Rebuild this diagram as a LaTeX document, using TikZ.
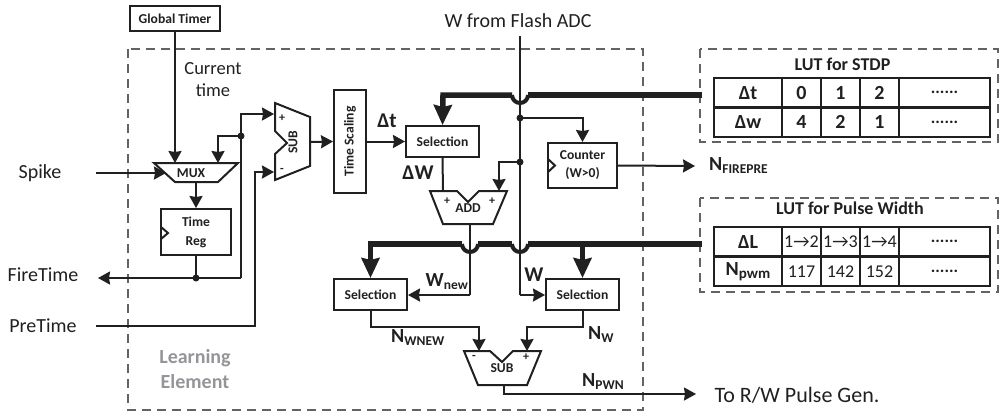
\documentclass[tikz,border=0pt]{standalone}
\usepackage{fontspec}
\setmainfont{Carlito}
\usetikzlibrary{arrows.meta}
\definecolor{boxline}{HTML}{202020}
\definecolor{dashline}{HTML}{636363}
\definecolor{titlegray}{HTML}{939598}
\newcommand{\sizebig}{\fontsize{20}{24}\selectfont}
\newcommand{\sizebox}{\fontsize{13.6}{17}\selectfont}
\newcommand{\sizesmall}{\fontsize{12}{14}\selectfont}
\newcommand{\lab}[2]{{\bfseries\fontsize{20}{24}\selectfont #1\raisebox{-3pt}{\fontsize{13.5}{18}\selectfont #2}}}
\tikzset{
    wire/.style={line width=2pt,draw=boxline},
    wirearrow/.style={wire,-{Stealth[length=12pt,width=13pt,inset=1pt]}},
    bus/.style={line width=5.5pt,draw=boxline},
    busarrow/.style={bus,-{Stealth[length=20pt,width=18pt,inset=2pt]}},
    bump/.style={line width=4pt,draw=boxline},
    block/.style={draw=boxline,line width=2pt,inner sep=0pt,align=center,font=\sizebox\bfseries,text=boxline},
    outline/.style={draw=boxline,line width=2pt,line join=miter},
    region/.style={draw=dashline,line width=1.8pt,dash pattern=on 9pt off 6pt},
    junction/.style={circle,fill=boxline,inner sep=0pt,minimum size=7pt},
    plain/.style={inner sep=0pt,align=center,text=boxline,font=\sizebig},
    tag/.style={inner sep=0pt,text=boxline},
    cell/.style={draw=boxline,line width=2.2pt,inner sep=0pt,minimum height=29.5pt,text=boxline,font=\fontsize{20}{24}\selectfont\bfseries},
    thincell/.style={cell,font=\fontsize{18}{22}\selectfont},
    dotcell/.style={cell,minimum width=91pt,font=\fontsize{17}{20}\selectfont\bfseries}
}
\begin{document}
\begin{tikzpicture}[x=1pt,y=-1pt]
    \useasboundingbox (0,0) rectangle (1000,413);
    % dashed frames
    \draw [region] (128,49) rectangle (643,410);
    \draw [region] (700,49) rectangle (998,142);
    \draw [region] (700,198) rectangle (998,292);
    % plain blocks
    \node [block,minimum width=90pt,minimum height=25pt] (timer) at (175,18.5) {Global Timer};
    \node [block,minimum width=70pt,minimum height=46pt] (reg) at (196,232) {Time\\[2pt]Reg};
    \node [block,minimum width=32pt,minimum height=103pt] (scale) at (350,141.5) {\rotatebox{90}{Time Scaling}};
    \node [block,minimum width=73pt,minimum height=31pt] (sela) at (442.5,141.5) {Selection};
    \node [block,minimum width=69pt,minimum height=45pt] (count) at (582.5,165.5) {Counter\\[1pt](W>0)};
    \node [block,minimum width=73pt,minimum height=31pt] (selb) at (370.5,294.5) {Selection};
    \node [block,minimum width=73pt,minimum height=31pt] (selc) at (582.5,294.5) {Selection};
    % clock marks
    \draw [outline] (161,227) -- (168,233) -- (161,239);
    \draw [outline] (548,159) -- (555,165.5) -- (548,172);
    % arithmetic shapes
    \draw [outline] (154,163) -- (238,163) -- (218,182) -- (175,182) -- cycle;
    \draw [outline] (275,103) -- (310,117) -- (310,166) -- (275,180) -- (275,154) -- (287,143) -- (275,131) -- cycle;
    \draw [outline] (430,191) -- (457,191) -- (468,202) -- (479,191) -- (507,191) -- (493,224) -- (443,224) -- cycle;
    \draw [outline] (464,351) -- (490,351) -- (502,362) -- (513,351) -- (541,351) -- (527,385) -- (478,385) -- cycle;
    \node [tag,font=\sizebox\bfseries] (mux) at (191,173) {MUX};
    \node [tag,font=\sizebox\bfseries,rotate=90] (sub) at (293,142) {SUB};
    \node [tag,font=\sizebox\bfseries] (add) at (468,208) {ADD};
    \node [tag,font=\sizebox\bfseries] (subw) at (502,368) {SUB};
    \node [tag,font=\sizesmall\bfseries] (subplus) at (282,118) {+};
    \node [tag,font=\sizesmall\bfseries] (subminus) at (282,170) {-};
    \node [tag,font=\sizesmall\bfseries] (addl) at (447,201) {+};
    \node [tag,font=\sizesmall\bfseries] (addr) at (492,201) {+};
    \node [tag,font=\sizesmall\bfseries] (subwl) at (474,357) {-};
    \node [tag,font=\sizesmall\bfseries] (subwr) at (526,357) {+};
    % outside texts
    \node [plain] (spike) at (40,173) {Spike};
    \node [plain] (fire) at (43,275) {FireTime};
    \node [plain] (pre) at (43,326) {PreTime};
    \node [plain] (flash) at (518,21) {W from Flash ADC};
    \node [plain,font=\fontsize{18.5}{22}\selectfont] (now) at (213,80) {Current\\time};
    \node [plain,font=\fontsize{22}{26}\selectfont] (pulse) at (797,395) {To R/W Pulse Gen.};
    \node [inner sep=0pt,align=center,text=titlegray,font=\fontsize{20}{25}\selectfont\bfseries] (learn) at (195,369) {Learning\\Element};
    % signal labels
    \node [tag,font=\bfseries\fontsize{21}{24}\selectfont] (dt) at (387,121) {Δt};
    \node [tag,font=\bfseries\fontsize{21}{24}\selectfont] (dw) at (418,173) {ΔW};
    \node [tag,font=\bfseries\fontsize{21}{24}\selectfont] (lw) at (534,275) {W};
    \node [tag,anchor=west] (nfire) at (709,166) {\lab{N}{FIREPRE}};
    \node [tag,anchor=east] (nnew) at (468,282) {\lab{W}{new}};
    \node [tag,anchor=west] (nwnew) at (391,338) {\lab{N}{WNEW}};
    \node [tag,anchor=west] (nw) at (588,335) {\lab{N}{W}};
    \node [tag,anchor=west] (npwn) at (582,382) {\lab{N}{PWN}};
    % free ends and corners
    \coordinate (spikeout) at (96,173);
    \coordinate (muxin) at (166,173);
    \coordinate (muxtopa) at (175,163);
    \coordinate (muxtopb) at (218,163);
    \coordinate (muxout) at (196,182);
    \coordinate (fireend) at (98,278);
    \coordinate (firejoin) at (196,278);
    \coordinate (firecorner) at (241,278);
    \coordinate (backjoin) at (241,136);
    \coordinate (subin) at (274,114);
    \coordinate (subinb) at (274,172);
    \coordinate (prestart) at (96,326);
    \coordinate (prebend) at (255,326);
    \coordinate (subout) at (310,142);
    \coordinate (wtop) at (520,36);
    \coordinate (wjoina) at (520,118);
    \coordinate (wjoinb) at (520,162);
    \coordinate (wbend) at (520,295);
    \coordinate (addina) at (443,191);
    \coordinate (addinb) at (499,191);
    \coordinate (addout) at (470,224);
    \coordinate (newbend) at (470,295);
    \coordinate (subwa) at (479,351);
    \coordinate (subwb) at (527,351);
    \coordinate (subwo) at (504,385);
    \coordinate (pulseend) at (696,394);
    \coordinate (fireout) at (695,166);
    % thin connectors
    \draw [wirearrow] (timer.south) -- (muxtopa);
    \draw [wirearrow] (spikeout) -- (muxin);
    \draw [wirearrow] (muxout) -- (reg.north);
    \draw [wire] (reg.south) -- (firejoin);
    \draw [wirearrow] (firecorner) -- (fireend);
    \draw [wirearrow] (firecorner) |- (subin);
    \draw [wirearrow] (backjoin) -| (muxtopb);
    \draw [wirearrow] (prestart) -- (prebend) |- (subinb);
    \draw [wirearrow] (subout) -- (scale.west);
    \draw [wirearrow] (scale.east) -- (sela.west);
    \draw [wire] (sela.south) -- (addina);
    \draw [wirearrow] (wjoina) -| (count.north);
    \draw [wirearrow] (wjoinb) -| (addinb);
    \draw [wirearrow] (count.east) -- (fireout);
    \draw [wire] (wtop) -- (wbend);
    \draw [wirearrow] (wbend) -- (selc.west |- wbend);
    \draw [wire] (addout) -- (newbend);
    \draw [wirearrow] (newbend) -- (selb.east |- newbend);
    \draw [wirearrow] (selb.south) |- (479,327) -- (subwa);
    \draw [wirearrow] (selc.south) |- (527,327) -- (subwb);
    \draw [wirearrow] (subwo) |- (pulseend);
    % thick buses with bumps
    \draw [busarrow] (512,95) -- (443,95) -- (sela.north);
    \draw [bus] (528,95) -- (702,95);
    \draw [bump] (512,95) arc [start angle=180,end angle=0,radius=8];
    \draw [busarrow] (462,244) -- (370.5,244) -- (selb.north);
    \draw [bus] (478,244) -- (512,244);
    \draw [bus] (528,244) -- (702,244);
    \draw [busarrow] (582.5,244) -- (selc.north);
    \draw [bump] (462,244) arc [start angle=180,end angle=0,radius=8];
    \draw [bump] (512,244) arc [start angle=180,end angle=0,radius=8];
    % junctions
    \node [junction] (dotback) at (backjoin) {};
    \node [junction] (dotfire) at (firejoin) {};
    \node [junction] (dotwa) at (wjoina) {};
    \node [junction] (dotwb) at (wjoinb) {};
    % stdp table
    \node [plain,font=\fontsize{18}{22}\selectfont\bfseries] (stdp) at (842.5,64) {LUT for STDP};
    \node [cell,minimum width=68pt] (ta0) at (748,92.75) {Δt};
    \node [cell,minimum width=39pt] (ta1) at (801.5,92.75) {0};
    \node [cell,minimum width=39pt] (ta2) at (840.5,92.75) {1};
    \node [cell,minimum width=39pt] (ta3) at (879.5,92.75) {2};
    \node [dotcell] (ta4) at (944.5,92.75) {......};
    \node [cell,minimum width=68pt] (tb0) at (748,122.25) {Δw};
    \node [cell,minimum width=39pt] (tb1) at (801.5,122.25) {4};
    \node [cell,minimum width=39pt] (tb2) at (840.5,122.25) {2};
    \node [cell,minimum width=39pt] (tb3) at (879.5,122.25) {1};
    \node [dotcell] (tb4) at (944.5,122.25) {......};
    % pulse width table
    \node [plain,font=\fontsize{18}{22}\selectfont\bfseries] (width) at (850,208) {LUT for Pulse Width};
    \node [cell,minimum width=68pt] (tc0) at (748,241.75) {ΔL};
    \node [thincell,minimum width=39pt] (tc1) at (801.5,241.75) {1→2};
    \node [thincell,minimum width=39pt] (tc2) at (840.5,241.75) {1→3};
    \node [thincell,minimum width=39pt] (tc3) at (879.5,241.75) {1→4};
    \node [dotcell] (tc4) at (944.5,241.75) {......};
    \node [cell,minimum width=68pt] (td0) at (748,271.25) {N\raisebox{-3pt}{\fontsize{15}{18}\selectfont pwm}};
    \node [thincell,minimum width=39pt] (td1) at (801.5,271.25) {117};
    \node [thincell,minimum width=39pt] (td2) at (840.5,271.25) {142};
    \node [thincell,minimum width=39pt] (td3) at (879.5,271.25) {152};
    \node [dotcell] (td4) at (944.5,271.25) {......};
\end{tikzpicture}
\end{document}
